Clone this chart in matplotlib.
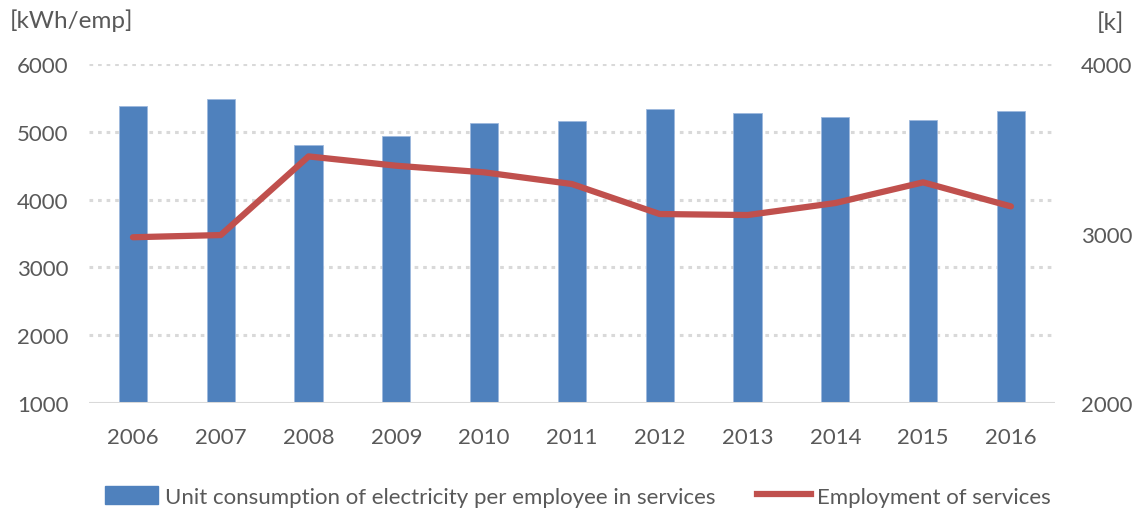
import matplotlib
matplotlib.use("Agg")
import matplotlib.pyplot as plt
from matplotlib.patches import Patch
from matplotlib.lines import Line2D
import numpy as np

years = ["2006", "2007", "2008", "2009", "2010", "2011", "2012", "2013", "2014", "2015", "2016"]
unit_consumption = [5385, 5484, 4805, 4934, 5125, 5159, 5332, 5273, 5218, 5178, 5311]
employment = [2978, 2991, 3455, 3400, 3361, 3292, 3115, 3109, 3180, 3302, 3160]
left_ticks = [1000, 2000, 3000, 4000, 5000, 6000]
right_ticks = [2000, 3000, 4000]

bar_color = "#4F81BD"
line_color = "#C0504D"
text_color = "#595959"
grid_color = "#D9D9D9"
fs = 16

plt.rcParams["font.family"] = ["Lato", "DejaVu Sans"]

fig = plt.figure(figsize=(11.33, 5.10), dpi=100)
ax = fig.add_axes([0.0786, 0.2078, 0.8524, 0.6647])
ax2 = ax.twinx()

x = np.arange(len(years))
ax.bar(x, np.array(unit_consumption) - 1000, bottom=1000, width=0.32,
       color=bar_color, edgecolor="#9DB9DE", linewidth=0.6, zorder=3)
ax.set_xlim(-0.5, len(years) - 0.5)
ax.set_ylim(1000, 6000)
ax.set_yticks(left_ticks)
for t in left_ticks[1:]:
    ax.axhline(t, color=grid_color, lw=2.2, ls=(0, (1.2, 1.6)), zorder=1)
ax.axhline(1000, color=grid_color, lw=2.2, zorder=4)

ax2.plot(x, employment, color=line_color, lw=4.5, solid_capstyle="round",
         solid_joinstyle="round", zorder=5)
ax2.set_ylim(2000, 4000)
ax2.set_yticks(right_ticks)

for a in (ax, ax2):
    for s in a.spines.values():
        s.set_visible(False)
    a.tick_params(length=0, labelsize=fs, colors=text_color)

ax.set_xticks(x)
ax.set_xticklabels(years)
ax.tick_params(axis="x", pad=17)
ax.tick_params(axis="y", pad=15)
ax2.tick_params(axis="y", pad=19)

fig.text(0.009, 0.96, "[kWh/emp]", fontsize=17.5, color=text_color, ha="left", va="center")
fig.text(0.968, 0.955, "[k]", fontsize=17.5, color=text_color, ha="left", va="center")

handles = [Patch(facecolor=bar_color, edgecolor=bar_color),
           Line2D([0], [0], color=line_color, lw=4.5)]
labels = ["Unit consumption of electricity per employee in services", "Employment of services"]
fig.legend(handles, labels, loc="center", bbox_to_anchor=(0.51, 0.025), ncol=2,
           frameon=False, fontsize=fs, labelcolor=text_color, handlelength=2.4,
           handleheight=0.9, handletextpad=0.3, columnspacing=1.9)

fig.savefig("out.png", dpi=100)
